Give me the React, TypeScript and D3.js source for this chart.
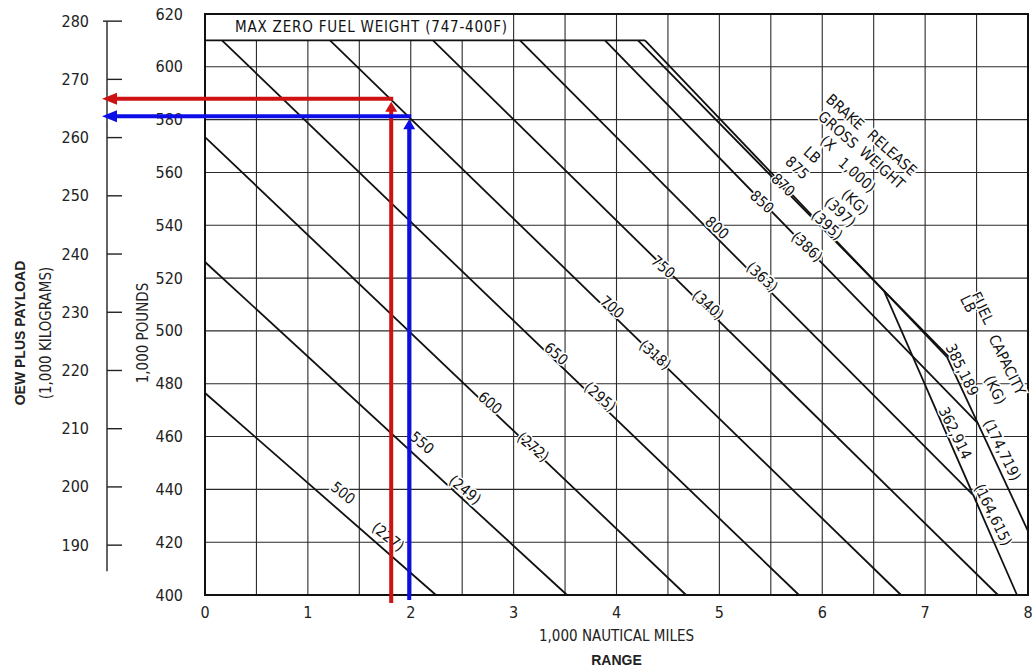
import * as d3 from 'd3';
import React, { useEffect, useRef } from 'react';

// axes
const rangeTicks = [0, 1, 2, 3, 4, 5, 6, 7, 8];
const lbTicks = [400, 420, 440, 460, 480, 500, 520, 540, 560, 580, 600, 620];
const kgTicks = [190, 200, 210, 220, 230, 240, 250, 260, 270, 280];
const gridRange = [0.5, 1, 1.5, 2, 2.5, 3, 3.5, 4, 4.5, 5, 5.5, 6, 6.5, 7, 7.5];
const gridLb = [420, 440, 460, 480, 500, 520, 540, 560, 580, 600];
const LB_PER_KG = 2.20462;

// max zero fuel weight (1,000 lb)
const mzfwLb = 610;
const mzfwLabel = 'MAX ZERO FUEL WEIGHT (747-400F)';

// brake release gross weight lines: [range 1,000 nm, OEW + payload 1,000 lb]
const brgwLb = ['500', '550', '600', '650', '700', '750', '800', '850', '870', '875'];
const brgwKg = ['(227)', '(249)', '(272)', '(295)', '(318)', '(340)', '(363)', '(386)', '(395)', '(397)'];
const brgwStart: [number, number][] = [
  [0, 476.5], [0, 526.1], [0, 573.4], [0.165, 610], [1.215, 610],
  [2.216, 610], [3.062, 610], [3.888, 610], [4.209, 610], [4.277, 610],
];
const brgwEnd: [number, number][] = [
  [2.245, 400], [3.519, 400], [4.676, 400], [5.774, 400], [6.766, 400],
  [7.708, 400], [7.465, 437.9], [7.504, 465.4], [7.281, 488.2], [7.213, 490.1],
];

// fuel capacity lines
const fuelLb = ['385,189', '362,914'];
const fuelKg = ['(174,719)', '(164,615)'];
const fuelStart: [number, number][] = [[7.213, 490.1], [6.6, 515.2]];
const fuelEnd: [number, number][] = [[8.0, 424.2], [7.893, 400]];

// worked examples drawn over the chart
const routeColor = ['#cc1212', '#0d0de8'];
const routeRange = [1.81, 1.985];
const routePayloadLb = [587.5, 580.9];

// label placement, in chart units
const brgwLbLabelAt: [number, number][] = [
  [1.341, 438.6], [2.109, 457.6], [2.77, 472.7], [3.412, 491.3], [3.956, 509.0],
  [4.452, 524.2], [4.977, 539.0], [5.414, 548.8], [5.619, 555.2], [5.755, 561.7],
];
const brgwKgLabelAt: [number, number][] = [
  [1.779, 422.0], [2.527, 439.8], [3.188, 456.0], [3.84, 475.0], [4.374, 490.9],
  [4.889, 509.8], [5.414, 520.4], [5.852, 531.8], [6.046, 540.1], [6.173, 545.0],
];
const brgwHeader: [string, number, number][] = [
  ['BRAKE', 6.221, 582.9], ['RELEASE', 6.678, 567.4],
  ['GROSS', 6.153, 576.1], ['WEIGHT', 6.581, 561.7],
  ['(X', 6.056, 571.1], ['1,000)', 6.338, 559.0],
  ['LB', 5.9, 566.6], ['(KG)', 6.318, 548.8],
];
const fuelHeader: [string, number, number][] = [
  ['FUEL', 7.553, 508.7], ['CAPACITY', 7.796, 487.1],
  ['LB', 7.417, 510.2], ['(KG)', 7.679, 477.6],
];
const fuelLbLabelAt: [number, number][] = [[7.358, 485.2], [7.29, 461.3]];
const fuelKgLabelAt: [number, number][] = [[7.747, 454.9], [7.66, 430.3]];

const FONT = "'Liberation Sans Narrow', 'DejaVu Sans Condensed', 'Liberation Sans', sans-serif";

export default function App() {
  const ref = useRef<SVGSVGElement>(null);

  useEffect(() => {
    if (!ref.current) return;
    const svg = d3.select(ref.current);
    svg.selectAll('*').remove();

    const x = d3.scaleLinear().domain([0, 8]).range([205, 1028]);
    const y = d3.scaleLinear().domain([400, 620]).range([595, 14]);
    const yKg = (kg: number) => y(kg * LB_PER_KG);

    svg.append('rect').attr('width', 1034).attr('height', 671).attr('fill', '#fff');

    // grid
    const grid = svg.append('g').attr('stroke', '#2a2a2a').attr('stroke-width', 1.1);
    grid
      .selectAll('.v')
      .data(gridRange)
      .join('line')
      .attr('class', 'v')
      .attr('x1', d => x(d))
      .attr('x2', d => x(d))
      .attr('y1', d => (d < 3 ? y(mzfwLb) : y(620)))
      .attr('y2', y(400));
    grid
      .selectAll('.h')
      .data(gridLb)
      .join('line')
      .attr('class', 'h')
      .attr('x1', x(0))
      .attr('x2', x(8))
      .attr('y1', d => y(d))
      .attr('y2', d => y(d));

    // frame
    svg
      .append('rect')
      .attr('x', x(0))
      .attr('y', y(620))
      .attr('width', x(8) - x(0))
      .attr('height', y(400) - y(620))
      .attr('fill', 'none')
      .attr('stroke', '#111')
      .attr('stroke-width', 2);

    // MZFW
    svg
      .append('line')
      .attr('x1', x(0))
      .attr('x2', x(brgwStart[brgwStart.length - 1][0]))
      .attr('y1', y(mzfwLb))
      .attr('y2', y(mzfwLb))
      .attr('stroke', '#111')
      .attr('stroke-width', 1.8);
    svg
      .append('text')
      .attr('x', 235)
      .attr('y', (y(620) + y(mzfwLb)) / 2)
      .attr('dominant-baseline', 'central')
      .attr('font-family', FONT)
      .attr('font-size', 15)
      .attr('letter-spacing', 0.8)
      .attr('fill', '#111')
      .text(mzfwLabel);

    const line = d3
      .line<[number, number]>()
      .x(d => x(d[0]))
      .y(d => y(d[1]));

    // brake release gross weight + fuel capacity lines
    const lines = svg.append('g').attr('fill', 'none').attr('stroke', '#111').attr('stroke-width', 1.8);
    brgwStart.forEach((s, i) => {
      lines.append('path').attr('d', line([s, brgwEnd[i]]));
    });
    fuelStart.forEach((s, i) => {
      lines.append('path').attr('d', line([s, fuelEnd[i]]));
    });

    const angleOf = (s: [number, number], e: [number, number]) =>
      (Math.atan2(y(e[1]) - y(s[1]), x(e[0]) - x(s[0])) * 180) / Math.PI;

    const label = (txt: string, at: [number, number], angle: number) => {
      svg
        .append('text')
        .attr('transform', `translate(${x(at[0])},${y(at[1])}) rotate(${angle})`)
        .attr('text-anchor', 'middle')
        .attr('dominant-baseline', 'central')
        .attr('font-family', FONT)
        .attr('font-size', 15)
        .attr('fill', '#111')
        .attr('stroke', '#fff')
        .attr('stroke-width', 3)
        .attr('paint-order', 'stroke')
        .text(txt);
    };

    brgwLb.forEach((t, i) => {
      const a = angleOf(brgwStart[i], brgwEnd[i]) - 3;
      label(t, brgwLbLabelAt[i], a);
      label(brgwKg[i], brgwKgLabelAt[i], a);
    });
    brgwHeader.forEach(([t, rx, ly]) => label(t, [rx, ly], 42));
    fuelHeader.forEach(([t, rx, ly]) => label(t, [rx, ly], 64));
    fuelLb.forEach((t, i) => {
      label(t, fuelLbLabelAt[i], 64);
      label(fuelKg[i], fuelKgLabelAt[i], 64);
    });

    // tick labels
    const ticks = svg.append('g').attr('font-family', FONT).attr('font-size', 16).attr('fill', '#222');
    ticks
      .selectAll('.lb')
      .data(lbTicks)
      .join('text')
      .attr('class', 'lb')
      .attr('x', 183)
      .attr('y', d => y(d))
      .attr('text-anchor', 'end')
      .attr('dominant-baseline', 'central')
      .text(d => d);
    ticks
      .selectAll('.rg')
      .data(rangeTicks)
      .join('text')
      .attr('class', 'rg')
      .attr('x', d => x(d))
      .attr('y', 612)
      .attr('text-anchor', 'middle')
      .attr('dominant-baseline', 'central')
      .text(d => d);
    ticks
      .selectAll('.kg')
      .data(kgTicks)
      .join('text')
      .attr('class', 'kg')
      .attr('x', 89)
      .attr('y', d => yKg(d))
      .attr('text-anchor', 'end')
      .attr('dominant-baseline', 'central')
      .text(d => d);

    // kilogram axis
    const kgAxisX = 107;
    const kgAxis = svg.append('g').attr('stroke', '#222').attr('stroke-width', 1.4);
    kgAxis
      .append('line')
      .attr('x1', kgAxisX)
      .attr('x2', kgAxisX)
      .attr('y1', yKg(280))
      .attr('y2', yKg(185.5));
    kgAxis
      .selectAll('.t')
      .data(kgTicks)
      .join('line')
      .attr('class', 't')
      .attr('x1', d => (d === 280 ? kgAxisX - 4 : kgAxisX))
      .attr('x2', kgAxisX + 15)
      .attr('y1', d => yKg(d))
      .attr('y2', d => yKg(d));

    // axis titles
    svg
      .append('text')
      .attr('x', (x(0) + x(8)) / 2)
      .attr('y', 636)
      .attr('text-anchor', 'middle')
      .attr('dominant-baseline', 'central')
      .attr('font-family', FONT)
      .attr('font-size', 15)
      .attr('fill', '#222')
      .text('1,000 NAUTICAL MILES');
    svg
      .append('text')
      .attr('x', (x(0) + x(8)) / 2)
      .attr('y', 660)
      .attr('text-anchor', 'middle')
      .attr('dominant-baseline', 'central')
      .attr('font-family', "'Liberation Sans', Arial, sans-serif")
      .attr('font-weight', 'bold')
      .attr('font-size', 14)
      .attr('fill', '#222')
      .text('RANGE');
    const vTitle = (txt: string, cx: number, bold: boolean, size: number) =>
      svg
        .append('text')
        .attr('transform', `translate(${cx},333) rotate(-90)`)
        .attr('text-anchor', 'middle')
        .attr('dominant-baseline', 'central')
        .attr('font-family', bold ? "'Liberation Sans', Arial, sans-serif" : FONT)
        .attr('font-weight', bold ? 'bold' : 'normal')
        .attr('font-size', size)
        .attr('fill', '#222')
        .text(txt);
    vTitle('OEW PLUS PAYLOAD', 20, true, 14);
    vTitle('(1,000 KILOGRAMS)', 46, false, 15);
    vTitle('1,000 POUNDS', 143, false, 15);

    // worked examples: up to the gross weight line, then across to kg scale
    routeRange.forEach((r, i) => {
      const c = routeColor[i];
      const vx = x(r);
      const vy = y(routePayloadLb[i]);
      const g = svg.append('g');
      g.append('line')
        .attr('x1', vx)
        .attr('x2', vx)
        .attr('y1', y(400) + 8 - i * 3)
        .attr('y2', vy + 10)
        .attr('stroke', c)
        .attr('stroke-width', 4);
      g.append('polygon')
        .attr('points', `${vx - 6},${vy + 12} ${vx + 6},${vy + 12} ${vx},${vy + 2}`)
        .attr('fill', c);
      g.append('line')
        .attr('x1', vx + 2)
        .attr('x2', kgAxisX + 8)
        .attr('y1', vy - 1)
        .attr('y2', vy - 1)
        .attr('stroke', c)
        .attr('stroke-width', 4);
      g.append('polygon')
        .attr('points', `${kgAxisX - 5},${vy - 1} ${kgAxisX + 10},${vy - 7} ${kgAxisX + 10},${vy + 5}`)
        .attr('fill', c);
    });
  }, []);

  return (
    <svg
      ref={ref}
      width={1034}
      height={671}
      style={{ position: 'absolute', left: 0, top: 0 }}
    />
  );
}
